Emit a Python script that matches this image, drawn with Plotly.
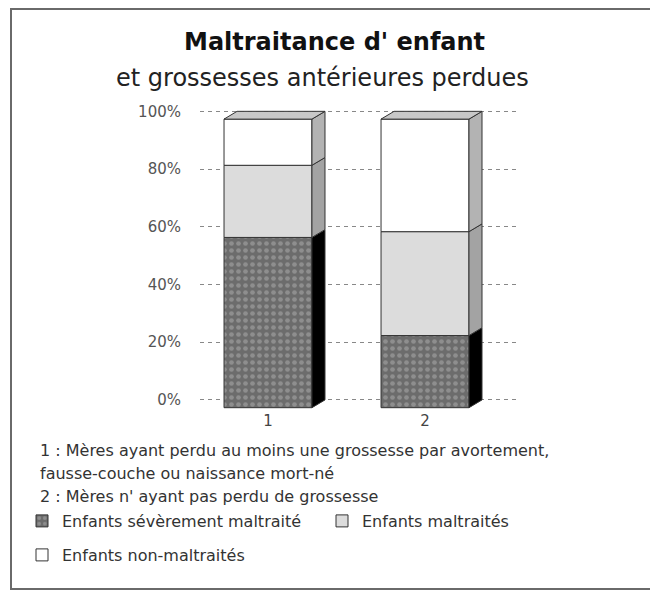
import plotly.graph_objects as go

# ---- data ----
categories = [1, 2]
category_labels = ["1", "2"]
series_names = ["Enfants sévèrement maltraité", "Enfants maltraités", "Enfants non-maltraités"]
severe = [59, 25]
maltreated = [25, 36]
not_maltreated = [16, 39]
y_ticks = [0, 20, 40, 60, 80, 100]
y_tick_labels = ["0%", "20%", "40%", "60%", "80%", "100%"]
title_line1 = "Maltraitance d' enfant"
title_line2 = "et grossesses antérieures perdues"
notes = [
    "1 : Mères ayant perdu au moins une grossesse par avortement,",
    "fausse-couche ou naissance mort-né",
    "2 : Mères n' ayant pas perdu de grossesse",
]

# ---- style ----
FONT = "DejaVu Sans"
BAR_W = 0.56
DEPTH_X = 0.083
DEPTH_Y = 2.7
EDGE = "#333333"
front_colors = ["#707070", "#dcdcdc", "#ffffff"]
side_colors = ["#000000", "#a3a3a3", "#b3b3b3"]
top_color = "#c8c8c8"

# page geometry (the browser adds an 8px body margin)
OFF = 8
W, H = 658 - OFF, 591 - OFF
L, R, T, B = 192, 138, 99, 181
PW, PH = W - L - R, H - T - B


def px(xpix):  # reference-screen x -> paper
    return (xpix - OFF - L) / PW


def py(ypix):  # reference-screen y -> paper
    return (H - B - (ypix - OFF)) / PH


series = [severe, maltreated, not_maltreated]
legend_ids = ["legend", "legend2", "legend3"]

fig = go.Figure()

bases = []
cum = [0.0] * len(categories)
for s in series:
    bases.append(list(cum))
    cum = [c + v for c, v in zip(cum, s)]

# front faces
for i, (name, s) in enumerate(zip(series_names, series)):
    marker = dict(color=front_colors[i], line=dict(color=EDGE, width=1))
    if i == 0:
        marker["pattern"] = dict(shape=".", bgcolor="#6c6c6c", fgcolor="#b0b0b0",
                                 size=7, solidity=0.35, fillmode="overlay")
    fig.add_trace(go.Bar(
        x=categories, y=s, base=[b - DEPTH_Y for b in bases[i]], width=BAR_W,
        name=name, marker=marker, hoverinfo="skip", legend=legend_ids[i],
    ))

# side faces (3D depth)
for i, s in enumerate(series):
    for j, xc in enumerate(categories):
        b = bases[i][j]
        t = b + s[j]
        xr = xc + BAR_W / 2
        fig.add_trace(go.Scatter(
            x=[xr, xr + DEPTH_X, xr + DEPTH_X, xr, xr],
            y=[b - DEPTH_Y, b, t, t - DEPTH_Y, b - DEPTH_Y],
            fill="toself", fillcolor=side_colors[i], mode="lines",
            line=dict(color=EDGE, width=1), showlegend=False, hoverinfo="skip",
        ))

# top faces
for j, xc in enumerate(categories):
    t = cum[j]
    xl = xc - BAR_W / 2
    xr = xc + BAR_W / 2
    fig.add_trace(go.Scatter(
        x=[xl, xl + DEPTH_X, xr + DEPTH_X, xr, xl],
        y=[t - DEPTH_Y, t, t, t - DEPTH_Y, t - DEPTH_Y],
        fill="toself", fillcolor=top_color, mode="lines",
        line=dict(color=EDGE, width=1), showlegend=False, hoverinfo="skip",
    ))

annotations = [
    dict(text="<b>" + title_line1 + "</b>", x=px(334), y=py(42), xref="paper", yref="paper",
         xanchor="center", yanchor="middle", showarrow=False,
         font=dict(family=FONT, size=24, color="#111111")),
    dict(text=title_line2, x=px(322), y=py(78), xref="paper", yref="paper",
         xanchor="center", yanchor="middle", showarrow=False,
         font=dict(family=FONT, size=24, color="#222222")),
]
for k, line in enumerate(notes):
    annotations.append(dict(
        text=line, x=px(38), y=py([450, 473, 496][k]), xref="paper", yref="paper",
        xanchor="left", yanchor="middle", showarrow=False,
        font=dict(family=FONT, size=16, color="#333333"),
    ))

legend_style = dict(orientation="h", xanchor="left", yanchor="middle",
                    font=dict(family=FONT, size=16, color="#333333"),
                    itemwidth=30, bgcolor="rgba(0,0,0,0)")

fig.update_layout(
    width=W, height=H,
    margin=dict(l=L, r=R, t=T, b=B),
    paper_bgcolor="white", plot_bgcolor="white",
    barmode="overlay",
    showlegend=True,
    legend=dict(x=px(22), y=py(521), **legend_style),
    legend2=dict(x=px(322), y=py(521), **legend_style),
    legend3=dict(x=px(22), y=py(555), **legend_style),
    annotations=annotations,
    shapes=[dict(type="rect", xref="paper", yref="paper",
                 x0=px(11), x1=px(653), y0=py(589), y1=py(9),
                 line=dict(color="#6a6a6a", width=2))],
    xaxis=dict(range=[0.567, 2.605], tickvals=categories, ticktext=category_labels,
               showgrid=False, zeroline=False, showline=False, ticks="",
               tickfont=dict(family=FONT, size=15, color="#444444")),
    yaxis=dict(range=[-3.5, 101.5], tickvals=y_ticks, ticktext=y_tick_labels,
               showgrid=True, gridcolor="#888888", griddash="4px,4px", gridwidth=1,
               zeroline=False, showline=False, ticks="", ticklabelstandoff=18,
               tickfont=dict(family=FONT, size=15, color="#555555")),
)

fig.write_html("out.html")
